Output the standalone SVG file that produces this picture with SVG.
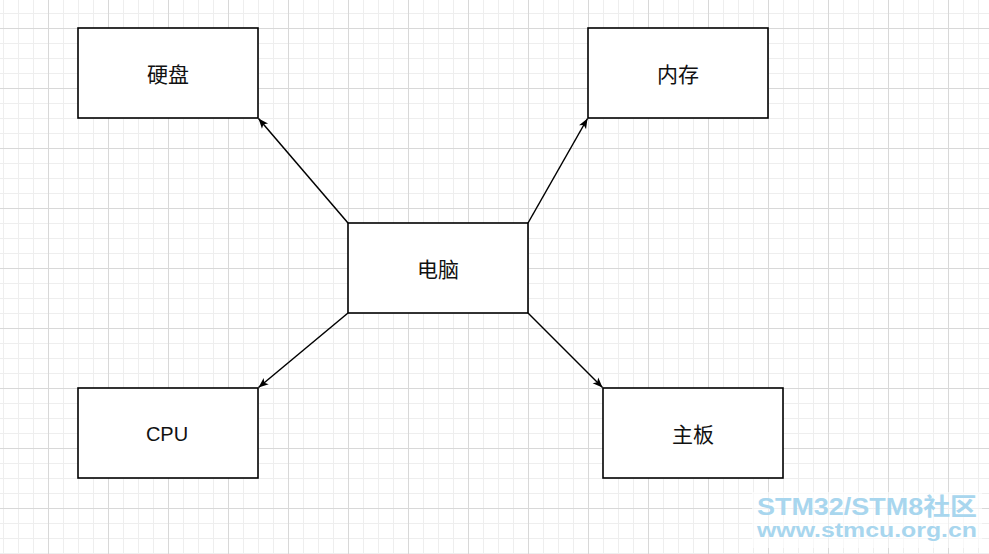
<svg xmlns="http://www.w3.org/2000/svg" width="989" height="554" viewBox="0 0 989 554">
  <defs>
    <pattern id="grid" patternUnits="userSpaceOnUse" x="48" y="28" width="60" height="60">
      <rect x="0" y="0" width="60" height="60" fill="#ffffff"/>
      <rect x="15" y="0" width="1" height="60" fill="#eeeeee"/>
      <rect x="30" y="0" width="1" height="60" fill="#eeeeee"/>
      <rect x="45" y="0" width="1" height="60" fill="#eeeeee"/>
      <rect x="0" y="15" width="60" height="1" fill="#eeeeee"/>
      <rect x="0" y="30" width="60" height="1" fill="#eeeeee"/>
      <rect x="0" y="45" width="60" height="1" fill="#eeeeee"/>
      <rect x="0" y="0" width="1" height="60" fill="#d8d8d8"/>
      <rect x="0" y="0" width="60" height="1" fill="#d8d8d8"/>
    </pattern>
    <marker id="arrow" viewBox="-11 -5 12 10" refX="0" refY="0" markerWidth="12" markerHeight="10" markerUnits="userSpaceOnUse" orient="auto">
      <path d="M0,0 L-10,-4 L-7.5,0 L-10,4 Z" fill="#000000"/>
    </marker>
    <style>
      .box { fill: #ffffff; stroke: #000000; stroke-width: 1.6; }
      .lbl { font-family: "Liberation Sans", "Noto Sans CJK SC", sans-serif; font-size: 21px; fill: #111111; text-anchor: middle; dominant-baseline: central; }
      .edge { fill: none; stroke: #000000; stroke-width: 1.5; marker-end: url(#arrow); }
      .wm { font-family: "Liberation Sans", "Noto Sans CJK SC", sans-serif; font-weight: bold; fill: #a8d6ee; }
    </style>
  </defs>
  <rect x="0" y="0" width="989" height="554" fill="url(#grid)"/>

  <g id="connectors">
    <line class="edge" x1="348" y1="223" x2="258.5" y2="118.5"/>
    <line class="edge" x1="528" y1="223" x2="587.5" y2="118.5"/>
    <line class="edge" x1="348" y1="313" x2="258.5" y2="387.5"/>
    <line class="edge" x1="528" y1="313" x2="602.5" y2="387.5"/>
  </g>

  <g id="node-disk">
    <rect class="box" x="78" y="28" width="180" height="90"/>
    <text class="lbl" x="168" y="74">硬盘</text>
  </g>
  <g id="node-memory">
    <rect class="box" x="588" y="28" width="180" height="90"/>
    <text class="lbl" x="678" y="74">内存</text>
  </g>
  <g id="node-computer">
    <rect class="box" x="348" y="223" width="180" height="90"/>
    <text class="lbl" x="438" y="269">电脑</text>
  </g>
  <g id="node-cpu">
    <rect class="box" x="78" y="388" width="180" height="90"/>
    <text class="lbl" x="167" y="434" style="font-size:20px">CPU</text>
  </g>
  <g id="node-board">
    <rect class="box" x="603" y="388" width="180" height="90"/>
    <text class="lbl" x="693" y="434">主板</text>
  </g>

  <g id="watermark">
    <rect x="752" y="492" width="230" height="56" fill="#ffffff" opacity="0.6"/>
    <text class="wm" x="757" y="515" font-size="24" textLength="220" lengthAdjust="spacingAndGlyphs">STM32/STM8社区</text>
    <text class="wm" x="757" y="537" font-size="20" textLength="220" lengthAdjust="spacingAndGlyphs">www.stmcu.org.cn</text>
  </g>
</svg>
